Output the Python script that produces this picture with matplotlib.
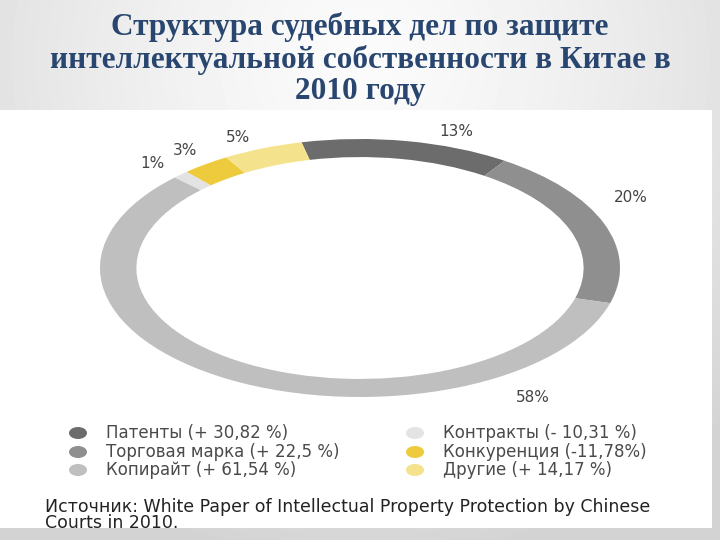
import numpy as np
import matplotlib
matplotlib.use("Agg")
import matplotlib.pyplot as plt
from matplotlib.patches import Ellipse, Rectangle

# данные
categories = ["Патенты", "Торговая марка", "Копирайт",
              "Контракты", "Конкуренция", "Другие"]
shares = [13, 20, 58, 1, 3, 5]
changes = ["(+ 30,82 %)", "(+ 22,5 %)", "(+ 61,54 %)",
           "(- 10,31 %)", "(-11,78%)", "(+ 14,17 %)"]
colors = ["#6c6c6c", "#8f8f8f", "#bfbfbf", "#e3e3e3", "#eecb3c", "#f5e28c"]

# позиции подписей процентов (в координатах осей кольца)
label_pos = [(0.37, 1.06), (1.04, 0.55), (0.665, -1.0),
             (-0.80, 0.81), (-0.675, 0.91), (-0.47, 1.01)]

W, H = 720, 540
fig = plt.figure(figsize=(W / 100, H / 100), dpi=100)

# фон слайда: светлый градиент
bg = fig.add_axes([0, 0, 1, 1])
yy, xx = np.mgrid[0:H, 0:W]
r = np.sqrt(((xx - W / 2) / (W * 0.75)) ** 2 + ((yy - 60) / (H * 0.95)) ** 2)
shade = 0.985 - 0.16 * np.clip(r, 0, 1) ** 1.3
bg.imshow(shade, cmap="gray", vmin=0, vmax=1, extent=[0, W, H, 0], aspect="auto")
bg.set_xlim(0, W)
bg.set_ylim(H, 0)
bg.axis("off")

# белая вставка с диаграммой
bg.add_patch(Rectangle((0, 110), 712, 418, facecolor="white", edgecolor="none"))

# заголовок
bg.text(W / 2, 59, "Структура судебных дел по защите\n"
        "интеллектуальной собственности в Китае в\n2010 году",
        ha="center", va="center", fontsize=22.5, fontweight="bold",
        family="Liberation Serif", color="#28466f", linespacing=1.13)

# кольцевая диаграмма (растянута по горизонтали)
cx, cy, rx, ry = 360, 268, 260, 129
ax = fig.add_axes([(cx - rx) / W, 1 - (cy + ry) / H, 2 * rx / W, 2 * ry / H])
wedges, _ = ax.pie(shares, colors=colors, startangle=103, counterclock=False,
                   radius=1, wedgeprops=dict(width=0.14, edgecolor="none"))
ax.set_aspect("auto")
ax.set_xlim(-1, 1)
ax.set_ylim(-1, 1)
ax.axis("off")
for s, (lx, ly) in zip(shares, label_pos):
    ax.text(lx, ly, f"{s}%", ha="center", va="center", fontsize=11,
            color="#444444", clip_on=False)

# легенда
rows = [433, 452, 470]
cols = [(78, 106), (415, 443)]
for i, (name, ch, c) in enumerate(zip(categories, changes, colors)):
    mx, tx = cols[i // 3]
    y = rows[i % 3]
    bg.add_patch(Ellipse((mx, y), 18, 12, facecolor=c, edgecolor="none"))
    bg.text(tx, y, f"{name} {ch}", ha="left", va="center", fontsize=12,
            color="#4a4a4a")

# источник
bg.text(45, 515, "Источник: White Paper of Intellectual Property Protection by Chinese\n"
        "Courts in 2010.", ha="left", va="center", fontsize=12.5,
        color="#222222", linespacing=0.8)

fig.savefig("out.png", dpi=100)
